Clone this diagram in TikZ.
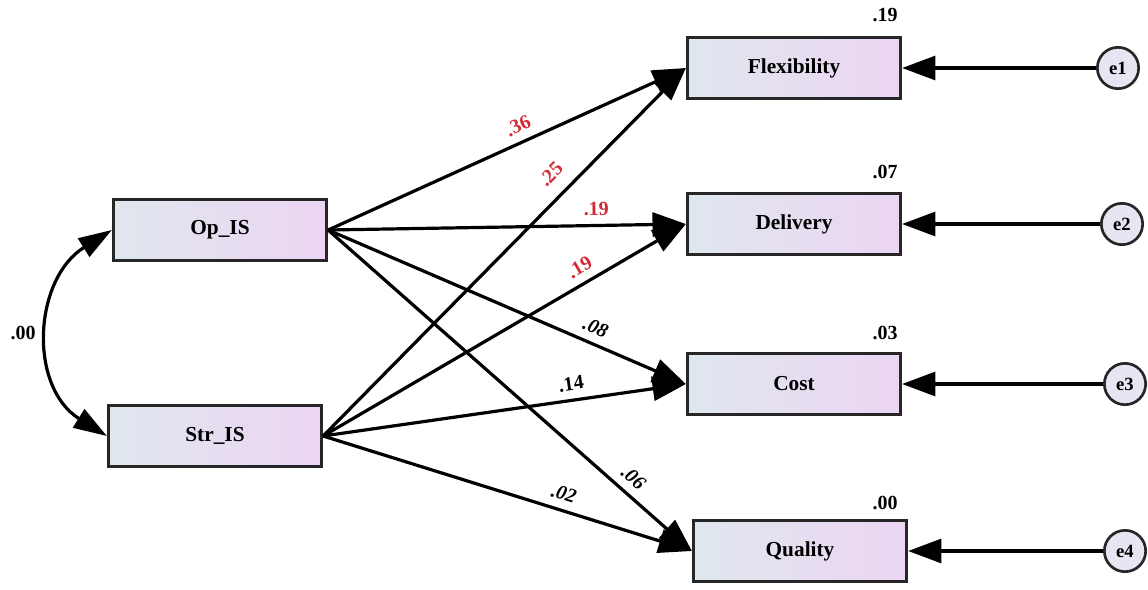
\documentclass[tikz,border=0pt]{standalone}
\usepackage{fontspec}
\setmainfont{Liberation Serif}
\usetikzlibrary{arrows.meta}
\definecolor{boxl}{HTML}{DFE7EE}
\definecolor{boxr}{HTML}{ECD5F3}
\definecolor{errf}{HTML}{E8E4F2}
\definecolor{coefred}{HTML}{D42A34}

\begin{document}
\begin{tikzpicture}[x=0.75pt, y=0.75pt,
    var/.style={draw=black!85, line width=2.2pt, left color=boxl, right color=boxr,
      minimum width=160pt, minimum height=46pt, font=\fontsize{16}{19}\selectfont\bfseries},
    err/.style={circle, draw=black!85, line width=2pt, fill=errf, minimum size=31pt,
      inner sep=0pt, font=\fontsize{14}{16}\selectfont\bfseries},
    link/.style={-{Triangle[length=25pt,width=18pt]}, line width=2.4pt},
    coef/.style={font=\fontsize{15}{17}\selectfont\bfseries, sloped, above, inner sep=2pt, yshift=4pt},
    red/.style={text=coefred},
    sq/.style={font=\fontsize{15}{17}\selectfont\bfseries}]
    \useasboundingbox (0,0) rectangle (1148,-589);

    \node[var] (op) at (220,-230) {Op\_IS};
    \node[var] (st) at (215,-436) {Str\_IS};
    \node[var] (fl) at (794,-68) {Flexibility};
    \node[var] (de) at (794,-224) {Delivery};
    \node[var] (co) at (794,-384) {Cost};
    \node[var] (qu) at (800,-551) {Quality};

    \node[err] (e1) at (1118,-68) {e1};
    \node[err] (e2) at (1122,-224) {e2};
    \node[err] (e3) at (1125,-384) {e3};
    \node[err] (e4) at (1125,-551) {e4};

    \node[sq] (r1) at (885,-15) {.19};
    \node[sq] (r2) at (885,-172) {.07};
    \node[sq] (r3) at (885,-333) {.03};
    \node[sq] (r4) at (885,-503) {.00};
    \node[sq] (cv) at (23,-333) {.00};

    % covariance
    \draw[{Triangle[length=25pt,width=16pt]}-{Triangle[length=25pt,width=16pt]}, line width=2.4pt]
      (op.west) to[out=212, in=148, looseness=1.15] (st.west);

    % paths
    \draw[link] (op.east) -- node[coef, red, pos=0.55] {.36} (fl.west);
    \draw[link] (st.east) -- node[coef, red, pos=0.67, yshift=4pt] {.25} (fl.west);
    \draw[link] (op.east) -- node[coef, red, pos=0.75] {.19} (de.west);
    \draw[link] (st.east) -- node[coef, red, pos=0.73] {.19} (de.west);
    \draw[link] (op.east) -- node[coef, pos=0.73] {\itshape .08} (co.west);
    \draw[link] (st.east) -- node[coef, pos=0.69] {.14} (co.west);
    \draw[link] (op.east) -- node[coef, pos=0.81] {\itshape .06} (qu.west);
    \draw[link] (st.east) -- node[coef, pos=0.64] {\itshape .02} (qu.west);

    % errors
    \draw[link] (e1) -- (fl);
    \draw[link] (e2) -- (de);
    \draw[link] (e3) -- (co);
    \draw[link] (e4) -- (qu);
\end{tikzpicture}
\end{document}
